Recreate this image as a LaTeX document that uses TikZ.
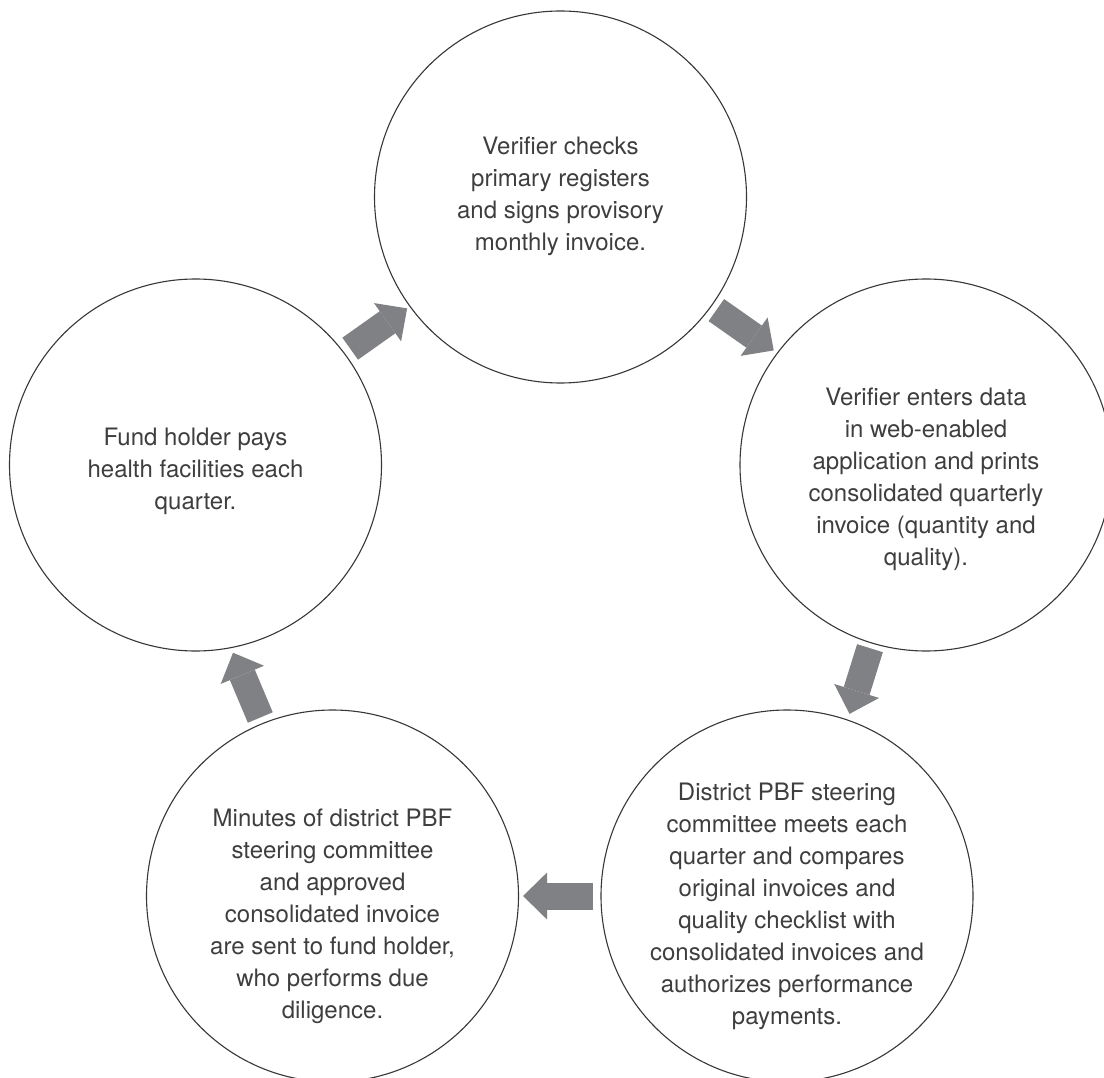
\documentclass[tikz,border=0pt]{standalone}
\usepackage{fontspec}
\setmainfont{TeX Gyre Heros}
\usetikzlibrary{arrows.meta}
\definecolor{arrowgray}{RGB}{128,129,132}
\definecolor{ringline}{RGB}{55,55,55}
\definecolor{inktext}{RGB}{62,62,62}
\begin{document}
\begin{tikzpicture}[x=1pt,y=-1pt,
  stage/.style={circle, draw=ringline, line width=1.1pt, minimum size=372pt, inner sep=0pt},
  stagetext/.style={align=center, font=\fontsize{24pt}{32pt}\selectfont, text=inktext, inner sep=0pt},
  flow/.style={draw=arrowgray, line width=27pt,
    -{Triangle[length=24pt,width=47pt,line width=0pt,fill=arrowgray]}}
]
\useasboundingbox (0,0) rectangle (1104,1078);

% the five stages of the payment cycle
\node[stage] (t)  at (560.5,197) {};
\node[stage] (r)  at (926,465)   {};
\node[stage] (br) at (787,896)   {};
\node[stage] (bl) at (332.5,896) {};
\node[stage] (l)  at (195.5,465) {};

\node[stagetext] (tt) at (560.5,196) {Verifier checks\\primary registers\\and signs provisory\\monthly invoice.};
\node[stagetext] (rt) at (926,479) {Verifier enters data\\in web-enabled\\application and prints\\consolidated quarterly\\invoice (quantity and\\quality).};
\node[stagetext] (brt) at (787,906) {District PBF steering\\committee meets each\\quarter and compares\\original invoices and\\quality checklist with\\consolidated invoices and\\authorizes performance\\payments.};
\node[stagetext] (blt) at (332.5,916) {Minutes of district PBF\\steering committee\\and approved\\consolidated invoice\\are sent to fund holder,\\who performs due\\diligence.};
\node[stagetext] (lt) at (195.5,471) {Fund holder pays\\health facilities each\\quarter.};

% block arrows between consecutive stages
\draw[flow, shorten <=7pt, shorten >=3pt] (l.37)   -- (t.216);
\draw[flow, shorten <=6pt, shorten >=4pt] (t.-36)  -- (r.143);
\draw[flow, shorten <=5pt, shorten >=6pt] (r.-107) -- (br.71.5);
\draw[flow, shorten <=7pt, shorten >=4pt] (br.180) -- (bl.0);
\draw[flow, shorten <=6pt, shorten >=5pt] (bl.112) -- (l.-79);
\end{tikzpicture}
\end{document}
